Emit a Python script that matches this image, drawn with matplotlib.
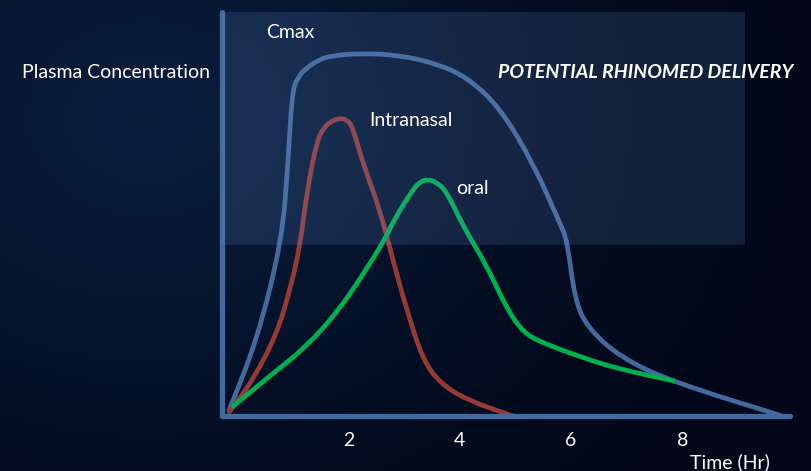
import matplotlib.pyplot as plt
import numpy as np
from matplotlib.patches import Rectangle, PathPatch
from matplotlib.path import Path

# hours, concentration (arbitrary units)
CMAX_T = [-0.14, 0.36, 0.81, 0.92, 0.99, 1.08, 1.26, 1.47, 1.67, 2.21, 2.93, 3.6, 4.13, 4.72, 5.32, 5.8, 5.93, 6.07, 6.29, 6.88, 7.83, 9.75]
CMAX_C = [1.5, 19, 44, 64, 80.7, 84.5, 87.2, 89, 90, 90.7, 90.2, 88, 84.7, 77.2, 63.2, 48.2, 44, 29, 22.2, 14.7, 8.5, 0.2]

NASAL_T = [-0.14, 0.29, 0.72, 0.95, 1.13, 1.26, 1.44, 1.56, 1.67, 1.85, 1.98, 2.08, 2.26, 2.57, 2.8, 3.05, 3.34, 3.65, 4.13, 4.96]
NASAL_C = [1.0, 9.0, 20.7, 31.5, 42.2, 56.5, 69, 72, 73.5, 74.5, 74, 72.2, 63.2, 51.5, 39, 26.5, 14, 8.2, 4.0, 0]

ORAL_T = [-0.09, 0.59, 1.26, 1.8, 2.21, 2.66, 2.8, 3.16, 3.3, 3.43, 3.6, 3.77, 4.06, 4.49, 4.85, 5.14, 5.44, 6.29, 6.88, 7.87]
ORAL_C = [2.2, 10, 17.5, 26, 34.2, 44.2, 48.5, 56.7, 58.6, 59.2, 58.3, 56, 47.5, 37.5, 26.7, 21, 18.5, 14.2, 11.7, 8.7]

TICKS = [2, 4, 6, 8]

BLUE = '#44699c'
RED = '#943b37'
GREEN = '#00b050'


def smooth_path(t, c):
    # quadratic bezier through segment midpoints, read points act as control points
    p = np.column_stack([t, c])
    verts = [p[0], (p[0] + p[1]) / 2]
    codes = [Path.MOVETO, Path.LINETO]
    for i in range(1, len(p) - 1):
        verts += [p[i], (p[i] + p[i + 1]) / 2]
        codes += [Path.CURVE3, Path.CURVE3]
    verts.append(p[-1])
    codes.append(Path.LINETO)
    return Path(verts, codes)


def main():
    fig = plt.figure(figsize=(8.12, 4.71), dpi=100)
    ax = fig.add_axes([0, 0, 1, 1])
    x0, x1 = -4.257, 10.329
    y0, y1 = -13.75, 104
    ax.set_xlim(x0, x1)
    ax.set_ylim(y0, y1)
    ax.axis('off')

    # dark navy background, a bit lighter at the upper left
    yy, xx = np.mgrid[0:1:200j, 0:1:300j]
    glow = np.exp(-((xx - 0.18) ** 2 / 0.2 + (yy - 0.75) ** 2 / 0.4))
    bg = np.zeros((200, 300, 3))
    bg[..., 0] = 0.008 + 0.025 * glow
    bg[..., 1] = 0.03 + 0.08 * glow
    bg[..., 2] = 0.1 + 0.13 * glow
    ax.imshow(bg, extent=[x0, x1, y0, y1], aspect='auto', zorder=0, origin='lower')

    lw = 3.4
    for t, c, col, z, cap in [(CMAX_T, CMAX_C, BLUE, 2, 'round'),
                              (NASAL_T, NASAL_C, RED, 3, 'round'),
                              (ORAL_T, ORAL_C, GREEN, 4, 'butt')]:
        ax.add_patch(PathPatch(smooth_path(t, c), facecolor='none', edgecolor=col, lw=lw,
                               capstyle=cap, joinstyle='round', zorder=z))

    # axes lines
    ax.plot([-0.27, -0.27], [0, 101], color=BLUE, lw=3.8, solid_capstyle='round', zorder=5)
    ax.plot([-0.27, 9.93], [0, 0], color=BLUE, lw=3.8, solid_capstyle='round', zorder=5)

    # translucent "potential delivery" box, drawn over the curves
    ax.add_patch(Rectangle((-0.27, 42.75), 9.395, 58.25, facecolor='#6f9be0', alpha=0.16,
                           edgecolor='none', zorder=6))

    font = 'Lato'
    fs = 14
    kw = dict(color='white', fontsize=fs, family=font, va='center', zorder=7)
    ax.text(-3.86, 85.75, 'Plasma Concentration', ha='left', **kw)
    ax.text(0.52, 95.75, 'Cmax', ha='left', **kw)
    ax.text(2.37, 73.75, 'Intranasal', ha='left', **kw)
    ax.text(3.93, 57, 'oral', ha='left', **kw)
    ax.text(9.99, 85.75, 'POTENTIAL RHINOMED DELIVERY', ha='right', weight='bold', style='italic', **kw)
    for t in TICKS:
        ax.text(t, -6, str(t), ha='center', **kw)
    ax.text(9.57, -11.5, 'Time (Hr)', ha='right', **kw)

    fig.savefig('out.png', dpi=100)


if __name__ == '__main__':
    main()
